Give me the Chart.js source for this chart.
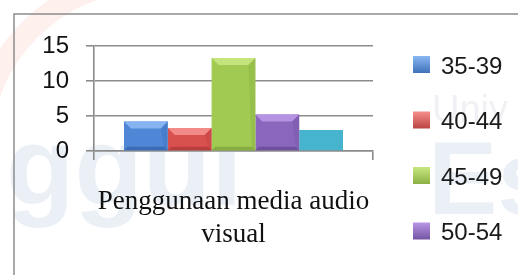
<!DOCTYPE html>
<html><head><meta charset="utf-8">
<script src="https://cdn.jsdelivr.net/npm/chart.js@4/dist/chart.umd.min.js"></script>
<style>html,body{margin:0;padding:0;background:#fff;overflow:hidden}#wrap{width:518px;height:275px;position:relative}</style>
</head><body><div id="wrap"><canvas id="c" width="518" height="275"></canvas></div>
<script>
const categories = [["Penggunaan media audio", "visual"]];
const seriesNames = ["35-39", "40-44", "45-49", "50-54", "55-59"];
const values35_39 = [4.2];
const values40_44 = [3.3];
const values45_49 = [13.3];
const values50_54 = [5.2];
const values55_59 = [3.0];
const yTicks = [0, 5, 10, 15];

const seriesValues = [values35_39, values40_44, values45_49, values50_54, values55_59];
const baseColors = ["#4f86d6", "#d9514f", "#a0ca52", "#8a67bd", "#46b3cf"];
const lightColors = ["#86b4f0", "#f28b88", "#c6e47e", "#b592e2", "#46b3cf"];
const darkColors = ["#3a6db5", "#b83f3d", "#86ad3f", "#6f509e", "#46b3cf"];

const watermark = {
  id: 'watermark',
  beforeDraw(chart) {
    const ctx = chart.ctx;
    ctx.save();
    ctx.fillStyle = '#ffffff';
    ctx.fillRect(0, 0, chart.width, chart.height);
    ctx.strokeStyle = 'rgba(240,130,110,0.12)';
    ctx.lineWidth = 22;
    ctx.beginPath();
    ctx.arc(150, 150, 170, Math.PI * 1.08, Math.PI * 1.42);
    ctx.stroke();
    ctx.fillStyle = '#ebf0f7';
    ctx.font = 'bold 112px "Liberation Sans"';
    ctx.textBaseline = 'alphabetic';
    ctx.fillText('ggul', 6, 205);
    ctx.font = 'bold 104px "Liberation Sans"';
    ctx.fillText('Es', 428, 214);
    ctx.fillStyle = '#eff1f4';
    ctx.font = '38px "Liberation Sans"';
    ctx.fillText('Univ', 432, 122);
    ctx.restore();
  }
};

const bevel = {
  id: 'bevel',
  afterDatasetsDraw(chart) {
    const ctx = chart.ctx;
    ctx.save();
    chart.data.datasets.forEach((ds, i) => {
      const meta = chart.getDatasetMeta(i);
      meta.data.forEach(el => {
        const p = el.getProps(['x', 'y', 'width', 'base'], true);
        const l = p.x - p.width / 2, r = p.x + p.width / 2, t = p.y, b = p.base;
        const e = 7;
        if (i === 4) return;
        ctx.fillStyle = lightColors[i];
        ctx.beginPath();
        ctx.moveTo(l, t); ctx.lineTo(r, t); ctx.lineTo(r - e, t + e); ctx.lineTo(l + e, t + e); ctx.closePath();
        ctx.fill();
        ctx.fillStyle = darkColors[i];
        ctx.beginPath();
        ctx.moveTo(l, b); ctx.lineTo(r, b); ctx.lineTo(r - e * 0.5, b - e * 0.5); ctx.lineTo(l + e * 0.5, b - e * 0.5); ctx.closePath();
        ctx.fill();
        ctx.globalAlpha = 0.35;
        ctx.beginPath();
        ctx.moveTo(r, t); ctx.lineTo(r, b); ctx.lineTo(r - e * 0.5, b - e * 0.5); ctx.lineTo(r - e, t + e); ctx.closePath();
        ctx.fill();
        ctx.globalAlpha = 1;
      });
    });
    ctx.restore();
  }
};

const frameLegend = {
  id: 'frameLegend',
  afterDraw(chart) {
    const ctx = chart.ctx;
    ctx.save();
    ctx.strokeStyle = '#8c8c8c';
    ctx.lineWidth = 1.5;
    ctx.strokeRect(14, 14, 520, 280);
    ctx.font = '24px "Liberation Sans"';
    ctx.textBaseline = 'middle';
    ctx.textAlign = 'left';
    chart.data.datasets.forEach((ds, i) => {
      const cy = 66 + i * 55.5;
      const g = ctx.createLinearGradient(0, cy - 9, 0, cy + 8);
      g.addColorStop(0, lightColors[i]);
      g.addColorStop(1, darkColors[i]);
      ctx.fillStyle = g;
      ctx.fillRect(413, cy - 10, 17, 17);
      ctx.fillStyle = '#1a1a1a';
      ctx.fillText(ds.label, 441, cy + 1);
    });
    ctx.restore();
  }
};

new Chart(document.getElementById('c'), {
  type: 'bar',
  data: {
    labels: categories,
    datasets: seriesNames.map((n, i) => ({
      label: n,
      data: seriesValues[i],
      backgroundColor: baseColors[i],
      borderWidth: 0,
      categoryPercentage: 0.785,
      barPercentage: 1.0
    }))
  },
  options: {
    responsive: false,
    animation: false,
    devicePixelRatio: 1,
    layout: { padding: { top: 46, right: 145, left: 0, bottom: 0 } },
    plugins: { legend: { display: false }, tooltip: { enabled: false } },
    scales: {
      y: {
        min: 0, max: 15,
        afterBuildTicks: s => { s.ticks = yTicks.map(v => ({ value: v })); },
        afterFit: s => { s.width = 94; },
        ticks: { font: { family: 'Liberation Sans', size: 24 }, color: '#111', padding: 17 },
        grid: { color: '#8c8c8c', lineWidth: 1.6, tickLength: 8 },
        border: { color: '#8c8c8c', width: 1.6 }
      },
      x: {
        afterFit: s => { s.height = 124; },
        ticks: { font: { family: 'Liberation Serif', size: 27 }, color: '#111', padding: 26, maxRotation: 0 },
        grid: { offset: true, drawOnChartArea: false, color: '#8c8c8c', lineWidth: 1.6, tickLength: 9 },
        border: { color: '#8c8c8c', width: 1.6 }
      }
    }
  },
  plugins: [watermark, bevel, frameLegend]
});
</script></body></html>
